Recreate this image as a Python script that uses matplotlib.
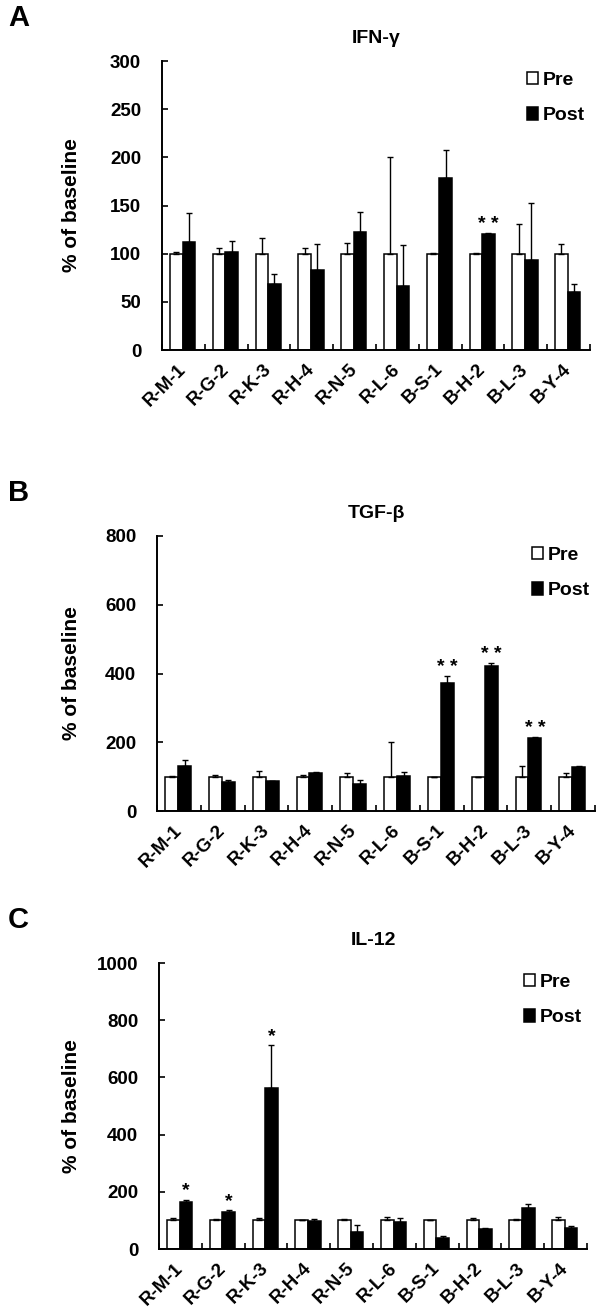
import numpy as np
import matplotlib
matplotlib.use("Agg")
import matplotlib.pyplot as plt
import matplotlib.transforms as mtransforms

plt.rcParams['font.family'] = ['Liberation Sans', 'DejaVu Sans']
plt.rcParams['font.weight'] = 'bold'

# sample names (shared by all three panels)
samples = ['R-M-1', 'R-G-2', 'R-K-3', 'R-H-4', 'R-N-5',
           'R-L-6', 'B-S-1', 'B-H-2', 'B-L-3', 'B-Y-4']

# IFN-gamma
ifn_pre = [100, 100, 100, 100, 100, 100, 100, 100, 100, 100]
ifn_pre_err = [2, 6, 16, 6, 11, 100, 1, 1, 31, 10]
ifn_post = [112, 102, 69, 83, 123, 66, 179, 120, 93, 60]
ifn_post_err = [30, 11, 10, 27, 20, 43, 29, 1.5, 60, 8]
ifn_stars = ['', '', '', '', '', '', '', '* *', '', '']

# TGF-beta
tgf_pre = [100, 100, 100, 100, 100, 100, 100, 100, 100, 100]
tgf_pre_err = [2, 6, 16, 6, 12, 100, 0, 0, 30, 10]
tgf_post = [131, 83, 86, 112, 79, 103, 372, 422, 211, 128]
tgf_post_err = [16, 8, 1, 1, 10, 10, 21, 8, 3, 2]
tgf_stars = ['', '', '', '', '', '', '* *', '* *', '* *', '']

# IL-12
il12_pre = [100, 100, 100, 100, 100, 100, 100, 100, 100, 100]
il12_pre_err = [7, 6, 9, 2, 6, 12, 0, 9, 5, 13]
il12_post = [166, 130, 564, 98, 60, 93, 40, 71, 142, 74]
il12_post_err = [7, 6, 150, 7, 24, 16, 4, 1, 16, 5]
il12_stars = ['*', '*', '*', '', '', '', '', '', '', '']

W, H = 600, 1312
fig = plt.figure(figsize=(W / 100, H / 100), dpi=100)


def px_axes(l, t, r, b):
    # axes box given in pixel coords of the output image
    return fig.add_axes([l / W, 1 - b / H, (r - l) / W, (b - t) / H])


def panel(ax, letter, title, pre, pre_err, post, post_err, stars, ymax, ystep, box):
    l, t, r, b = box
    x = np.arange(len(samples))
    w = 0.295
    ax.bar(x + 0.333, pre, w, color='white', edgecolor='black', linewidth=1.1,
           yerr=[np.zeros(len(pre)), pre_err], capsize=2,
           error_kw=dict(elinewidth=1.0, capthick=1.0, ecolor='black'), label='Pre')
    ax.bar(x + 0.628, post, w, color='black', edgecolor='black', linewidth=1.1,
           yerr=[np.zeros(len(post)), post_err], capsize=2,
           error_kw=dict(elinewidth=1.0, capthick=1.0, ecolor='black'), label='Post')
    for i, s in enumerate(stars):
        if s:
            ax.text(i + 0.628, post[i] + post_err[i], s, ha='center', va='bottom',
                    fontsize=14, fontweight='bold')

    ax.set_xlim(0, len(samples))
    ax.set_ylim(0, ymax)
    ax.set_yticks(np.arange(0, ymax + 1, ystep))
    ax.set_xticks(np.arange(len(samples) + 1))
    ax.set_xticklabels([])
    ax.set_xticks(x + 0.5, minor=True)
    ax.set_xticklabels(samples, minor=True, rotation=45, ha='right', va='center',
                       rotation_mode='anchor', fontsize=13.5, fontweight='bold')
    shift = mtransforms.ScaledTranslation(5 / 100, 0, fig.dpi_scale_trans)
    for lab in ax.get_xticklabels(minor=True):
        lab.set_transform(lab.get_transform() + shift)
    ax.tick_params(axis='x', which='major', direction='in', length=4, width=1.2)
    ax.tick_params(axis='x', which='minor', length=0, pad=12)
    ax.tick_params(axis='y', direction='in', length=4, width=1.2, pad=15,
                   labelsize=13.5)
    for lab in ax.get_yticklabels():
        lab.set_fontweight('bold')

    for side in ('top', 'right'):
        ax.spines[side].set_visible(False)
    for side in ('left', 'bottom'):
        ax.spines[side].set_linewidth(1.4)

    ax.set_title(title, fontsize=14, fontweight='bold', pad=13)
    ax.set_ylabel('% of baseline', fontsize=15, fontweight='bold')
    ax.yaxis.set_label_coords((81 - l) / (r - l), 0.5)

    ax.legend(loc='upper right', bbox_to_anchor=(1.0 + 6 / (r - l), 1.0), frameon=False,
              handlelength=0.6, handleheight=0.6,
              handletextpad=0.25, labelspacing=0.95, borderaxespad=0.15,
              prop={'weight': 'bold', 'size': 14})

    fig.text(8 / W, 1 - 4 / H - (t - 61) / H, letter, fontsize=21,
             fontweight='bold', ha='left', va='top')


box_a = (162, 61, 590, 350)
box_b = (157, 536, 595, 811)
box_c = (159, 963, 587, 1249)

ax_a = px_axes(*box_a)
panel(ax_a, 'A', 'IFN-γ', ifn_pre, ifn_pre_err, ifn_post, ifn_post_err,
      ifn_stars, 300, 50, box_a)
ax_b = px_axes(*box_b)
panel(ax_b, 'B', 'TGF-β', tgf_pre, tgf_pre_err, tgf_post, tgf_post_err,
      tgf_stars, 800, 200, box_b)
ax_c = px_axes(*box_c)
panel(ax_c, 'C', 'IL-12', il12_pre, il12_pre_err, il12_post, il12_post_err,
      il12_stars, 1000, 200, box_c)

fig.savefig('out.png', dpi=100)
